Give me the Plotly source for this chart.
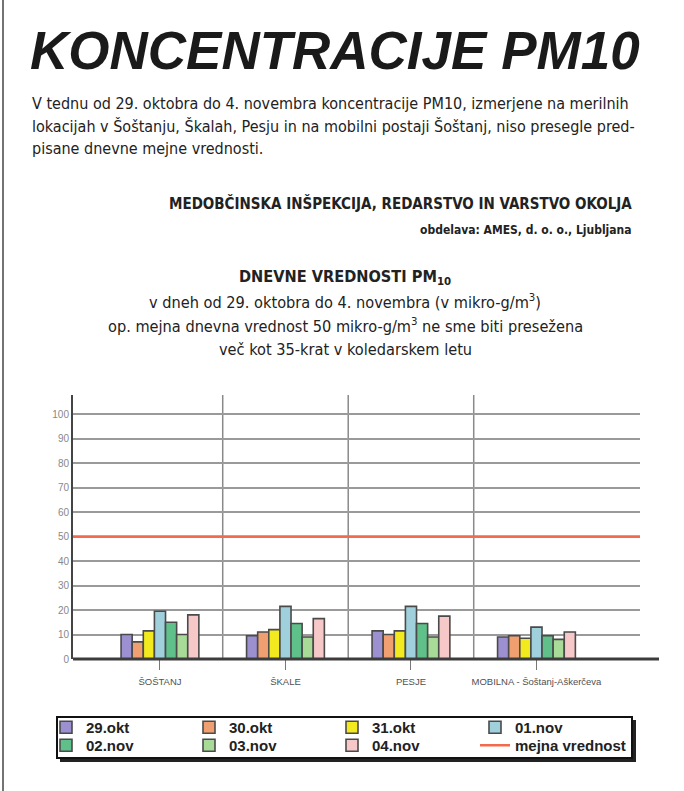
import plotly.graph_objects as go

# ---------------- data ----------------
locations = ["ŠOŠTANJ", "ŠKALE", "PESJE", "MOBILNA - Šoštanj-Aškerčeva"]
days = ["29.okt", "30.okt", "31.okt", "01.nov", "02.nov", "03.nov", "04.nov"]
v_29okt = [10, 9.5, 11.5, 9]
v_30okt = [7, 11, 10, 9.5]
v_31okt = [11.5, 12, 11.5, 8.5]
v_01nov = [19.5, 21.5, 21.5, 13]
v_02nov = [15, 14.5, 14.5, 9.5]
v_03nov = [10, 9, 9, 8]
v_04nov = [18, 16.5, 17.5, 11]
series = [v_29okt, v_30okt, v_31okt, v_01nov, v_02nov, v_03nov, v_04nov]
day_colors = ["#9d90d0", "#f0a070", "#f2ea1e", "#a0d0dc", "#5fc08a", "#a8da98", "#f6c8c8"]
limit_value = 50
limit_name = "mejna vrednost"
y_ticks = list(range(0, 101, 10))

# ---------------- geometry (pixels of the 684x791 picture) ----------------
W, H = 684, 791
L, R, T, B = 73, 640, 395, 659


def px(x):
    return (x - L) / (R - L)


def py(y):
    return (B - y) / (B - T)


xpos = list(range(len(locations)))
xr = [-0.693, 3.825]
yr = [0, 107.8]

fig = go.Figure()
for i, (d, vals, c) in enumerate(zip(days, series, day_colors)):
    fig.add_trace(go.Bar(
        x=xpos, y=vals, name=d,
        marker=dict(color=c, line=dict(color="#4a4a4a", width=1.6)),
        legend="legend" if i < 4 else "legend2",
    ))

fig.add_trace(go.Scatter(
    x=xr, y=[limit_value, limit_value], mode="lines", name=limit_name,
    line=dict(color="#f26a4b", width=2.5), legend="legend3",
))

shapes = []
for i in range(len(locations) - 1):
    shapes.append(dict(type="line", xref="x", yref="paper", x0=i + 0.5, x1=i + 0.5,
                       y0=0, y1=1, line=dict(color="#8a8a8a", width=1.5), layer="below"))
shapes.append(dict(type="line", xref="paper", yref="paper", x0=0, x1=px(659), y0=0, y1=0,
                   line=dict(color="#3c3c3c", width=3), layer="above"))
shapes.append(dict(type="rect", xref="paper", yref="paper", x0=px(60), x1=px(636),
                   y0=py(762), y1=py(720), fillcolor="#222222", line=dict(width=0), layer="above"))
shapes.append(dict(type="rect", xref="paper", yref="paper", x0=px(57), x1=px(632),
                   y0=py(758), y1=py(717), fillcolor="white", line=dict(color="#111111", width=2), layer="above"))
shapes.append(dict(type="line", xref="paper", yref="paper", x0=px(3), x1=px(3), y0=py(0), y1=py(791),
                   line=dict(color="#444444", width=1.5), layer="above"))

FN = "DejaVu Sans Condensed, DejaVu Sans, sans-serif"
ann = []
ann.append(dict(text="<b><i>KONCENTRACIJE PM10</i></b>", x=px(28), y=py(51), xanchor="left", yanchor="middle",
                font=dict(family="Liberation Sans", size=53, color="#1a1a1a")))
body = [
    "V tednu od 29. oktobra do 4. novembra koncentracije PM10, izmerjene na merilnih",
    "lokacijah v Šoštanju, Škalah, Pesju in na mobilni postaji Šoštanj, niso presegle pred-",
    "pisane dnevne mejne vrednosti.",
]
for k, line in enumerate(body):
    ann.append(dict(text=line, x=px(30), y=py(103 + 23 * k), xanchor="left", yanchor="middle",
                    font=dict(family=FN, size=16, color="#222222")))
ann.append(dict(text="<b>MEDOBČINSKA INŠPEKCIJA, REDARSTVO IN VARSTVO OKOLJA</b>", x=px(634), y=py(203),
                xanchor="right", yanchor="middle", font=dict(family=FN, size=15, color="#222222")))
ann.append(dict(text="<b>obdelava: AMES, d. o. o., Ljubljana</b>", x=px(634), y=py(230),
                xanchor="right", yanchor="middle", font=dict(family=FN, size=12, color="#222222")))
sub = [
    "<b>DNEVNE VREDNOSTI PM<sub>10</sub></b>",
    "v dneh od 29. oktobra do 4. novembra (v mikro-g/m<sup>3</sup>)",
    "op. mejna dnevna vrednost 50 mikro-g/m<sup>3</sup> ne sme biti presežena",
    "več kot 35-krat v koledarskem letu",
]
sub_y = [277, 301, 325, 349]
for line, yy in zip(sub, sub_y):
    ann.append(dict(text=line, x=px(345), y=py(yy), xanchor="center", yanchor="middle",
                    font=dict(family=FN, size=16.2, color="#222222")))
for a in ann:
    a.update(xref="paper", yref="paper", showarrow=False)

legend_common = dict(
    orientation="h", xanchor="left", yanchor="top", bgcolor="rgba(0,0,0,0)", borderwidth=0,
    font=dict(family="Liberation Sans", size=15, color="#222222", weight="bold"),
    entrywidth=98, entrywidthmode="pixels", itemwidth=30, tracegroupgap=0,
)

fig.update_layout(
    width=W, height=H,
    margin=dict(l=L, r=W - R, t=T, b=H - B, pad=0),
    paper_bgcolor="white", plot_bgcolor="white",
    barmode="group", bargap=0.38, bargroupgap=0,
    showlegend=True,
    legend=dict(x=px(46), y=py(711), **legend_common),
    legend2=dict(x=px(46), y=py(729), **legend_common),
    legend3=dict(x=px(46 + 3 * 143), y=py(729), orientation="h", xanchor="left", yanchor="top",
                 bgcolor="rgba(0,0,0,0)", borderwidth=0, itemwidth=30,
                 font=dict(family="Liberation Sans", size=15, color="#222222", weight="bold")),
    xaxis=dict(range=xr, tickvals=xpos, ticktext=locations, ticks="outside", ticklen=10,
               tickcolor="#777777", tickwidth=1, showgrid=False, zeroline=False, showline=False,
               ticklabelstandoff=4,
               tickfont=dict(family="Liberation Sans", size=9.5, color="#505050")),
    yaxis=dict(range=yr, tickvals=y_ticks, showgrid=True, gridcolor="#9a9a9a", gridwidth=1.5,
               zeroline=False, showline=True, linecolor="#444444", linewidth=2, ticks="",
               tickfont=dict(family="Liberation Sans", size=10, color="#888888")),
    shapes=shapes,
    annotations=ann,
)

fig.write_html("out.html", config={"displayModeBar": False},
               post_script="document.body.style.margin='0px';")
